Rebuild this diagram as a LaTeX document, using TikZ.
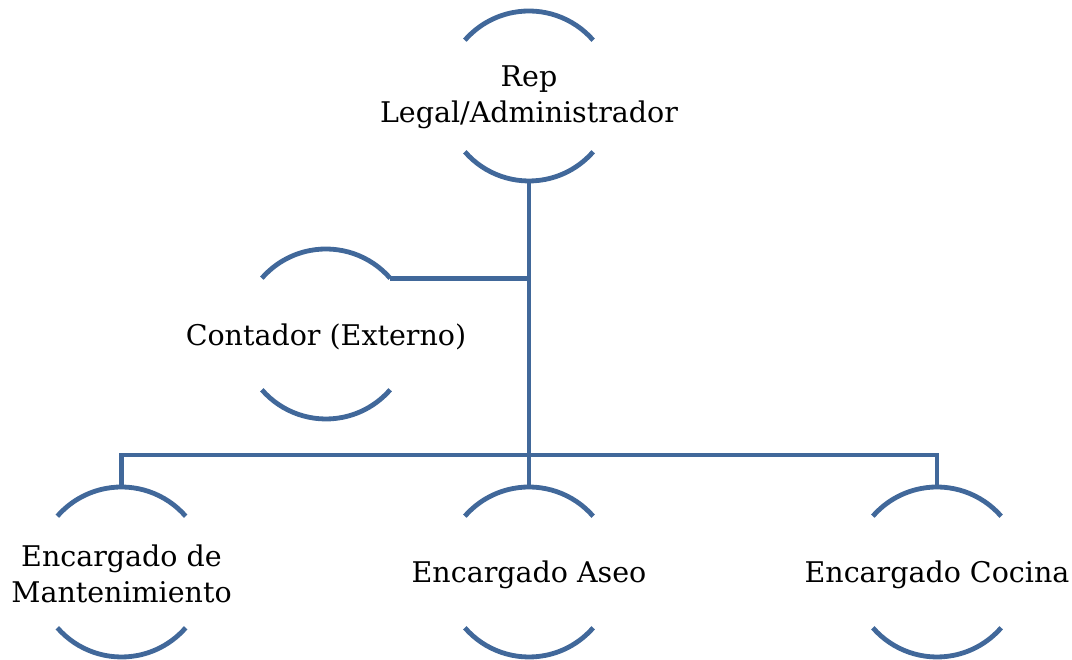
\documentclass[tikz,border=0pt]{standalone}
\usepackage{fontspec}
\setmainfont{DejaVu Serif}
\definecolor{lineblue}{RGB}{65,104,154}
\begin{document}
\begin{tikzpicture}[x=1pt,y=1pt,
  ring/.style={circle,minimum size=170pt,inner sep=0pt,outer sep=0pt},
  lbl/.style={inner sep=0pt,align=center,font=\fontsize{28.5}{36}\selectfont},
  arcline/.style={draw=lineblue,line width=4.8pt},
  conn/.style={draw=lineblue,line width=4.8pt}]
\useasboundingbox (0,0) rectangle (1072,660);
\newcommand\ringarcs[1]{%
  \draw[arcline] (#1.center) ++(41:85pt) arc[start angle=41,end angle=139,radius=85pt];
  \draw[arcline] (#1.center) ++(221:85pt) arc[start angle=221,end angle=319,radius=85pt];}
\node[ring] (rep) at (529,564) {};
\node[ring] (cont) at (326,326) {};
\node[ring] (mant) at (121.5,88) {};
\node[ring] (aseo) at (529,88) {};
\node[ring] (coc) at (937,88) {};
\node[lbl] (rep-t) at ([yshift=-1pt]rep.center) {Rep\\Legal/Administrador};
\node[lbl] (cont-t) at ([yshift=-3pt]cont.center) {Contador (Externo)};
\node[lbl] (mant-t) at ([yshift=-2pt]mant.center) {Encargado de\\Mantenimiento};
\node[lbl] (aseo-t) at ([yshift=-3pt]aseo.center) {Encargado Aseo};
\node[lbl] (coc-t) at ([yshift=-3pt]coc.center) {Encargado Cocina};
\ringarcs{rep}
\ringarcs{cont}
\ringarcs{mant}
\ringarcs{aseo}
\ringarcs{coc}
\coordinate (bus) at (529,205);
\draw[conn] (rep.south) -- (bus);
\draw[conn] (cont.41) -- (cont.41 -| rep.south);
\draw[conn] (mant.north) -- (mant.north |- bus) -- (coc.north |- bus) -- (coc.north);
\draw[conn] (aseo.north) -- (bus);
\end{tikzpicture}
\end{document}
